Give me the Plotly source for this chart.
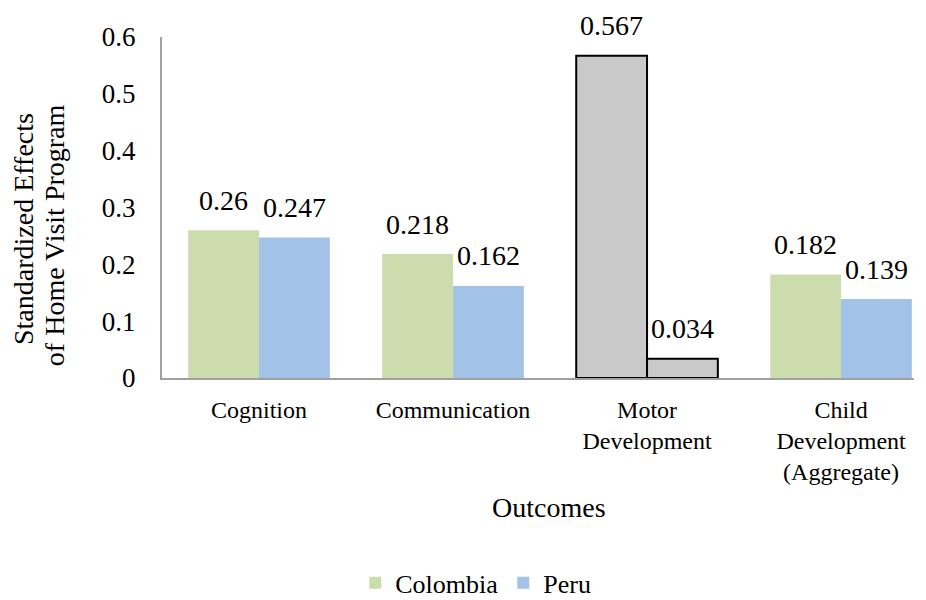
import plotly.graph_objects as go

categories = ["Cognition", "Communication", "Motor<br>Development", "Child<br>Development<br>(Aggregate)"]
colombia = [0.26, 0.218, 0.567, 0.182]
peru = [0.247, 0.162, 0.034, 0.139]
colombia_labels = ["0.26", "0.218", "0.567", "0.182"]
peru_labels = ["0.247", "0.162", "0.034", "0.139"]
y_ticks = [0, 0.1, 0.2, 0.3, 0.4, 0.5, 0.6]
y_tick_text = ["0", "0.1", "0.2", "0.3", "0.4", "0.5", "0.6"]
y_title_lines = ["Standardized Effects", "of Home Visit Program"]
x_title = "Outcomes"

GREEN = "#cddcac"
BLUE = "#a2c2e8"
GREY = "#c9c9c9"
FONT = "Liberation Serif"
highlight = [False, False, True, False]

col_colors = [GREY if h else GREEN for h in highlight]
peru_colors = [GREY if h else BLUE for h in highlight]
line_w = [2 if h else 0 for h in highlight]

fig = go.Figure()
fig.add_trace(go.Bar(name="Colombia", x=categories, y=colombia,
                     marker=dict(color=col_colors, line=dict(color="black", width=line_w))))
fig.add_trace(go.Bar(name="Peru", x=categories, y=peru,
                     marker=dict(color=peru_colors, line=dict(color="black", width=line_w))))

half = 0.73 * 194 / 4
for cat, v, t in zip(categories, colombia, colombia_labels):
    fig.add_annotation(x=cat, y=v, text=t, showarrow=False, xshift=-half, yshift=30,
                       xanchor="center", yanchor="middle",
                       font=dict(family=FONT, size=28, color="black"))
for cat, v, t in zip(categories, peru, peru_labels):
    fig.add_annotation(x=cat, y=v, text=t, showarrow=False, xshift=half, yshift=30,
                       xanchor="center", yanchor="middle",
                       font=dict(family=FONT, size=28, color="black"))

fig.add_annotation(text=y_title_lines[0], textangle=-90, xref="paper", yref="paper",
                   x=-0.1835, y=0.437, xanchor="center", yanchor="middle", showarrow=False,
                   font=dict(family=FONT, size=28, color="black"))
fig.add_annotation(text=y_title_lines[1], textangle=-90, xref="paper", yref="paper",
                   x=-0.1436, y=0.419, xanchor="center", yanchor="middle", showarrow=False,
                   font=dict(family=FONT, size=28, color="black"))
fig.add_annotation(text=x_title, xref="paper", yref="paper", x=0.515, y=-0.381,
                   xanchor="center", yanchor="middle", showarrow=False,
                   font=dict(family=FONT, size=28, color="black"))

fig.update_layout(
    width=918, height=592,
    margin=dict(l=154, r=12, t=29, b=222, autoexpand=False),
    paper_bgcolor="white", plot_bgcolor="white",
    barmode="group", bargap=0.27, bargroupgap=0,
    font=dict(family=FONT, size=24, color="black"),
    showlegend=True,
    legend=dict(orientation="h", x=0.257, xanchor="left", y=-0.601, yanchor="middle",
                font=dict(family=FONT, size=26, color="black")),
    xaxis=dict(range=[-0.5, 3.376], showline=True, linecolor="#a0a0a0", linewidth=2,
               showgrid=False, ticks="", ticklabelstandoff=9,
               tickfont=dict(family=FONT, size=24, color="black")),
    yaxis=dict(range=[0, 0.6], showline=True, linecolor="#a0a0a0", linewidth=2,
               showgrid=False, zeroline=False, ticks="", tickvals=y_ticks, ticktext=y_tick_text,
               ticklabelstandoff=19, tickfont=dict(family=FONT, size=27, color="black")),
)

fig.write_html("out.html")
